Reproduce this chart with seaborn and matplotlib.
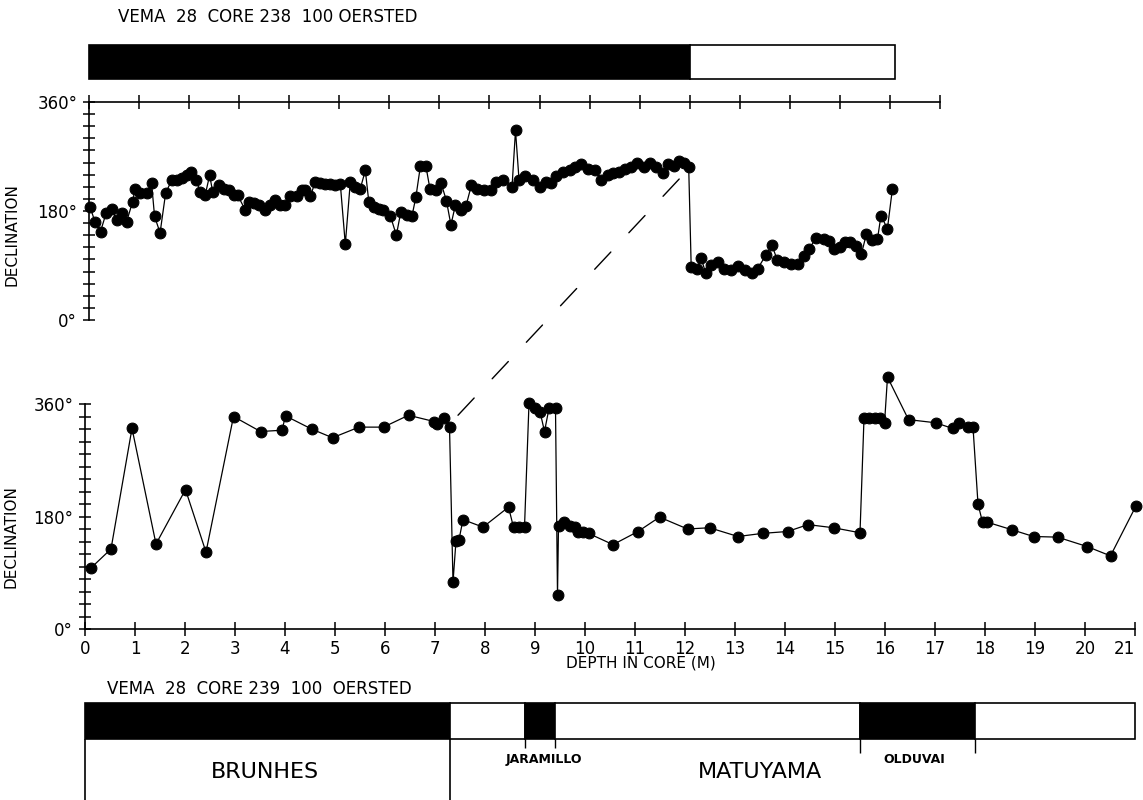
import numpy as np
import pandas as pd
import matplotlib.pyplot as plt
import seaborn as sns
from matplotlib.ticker import MultipleLocator
from matplotlib.patches import ConnectionPatch

# core 238 (top panel) - depth in m, declination in degrees
depth_238 = [0.02, 0.12, 0.23, 0.34, 0.45, 0.55, 0.65, 0.75, 0.87, 0.92,
             1.02, 1.15, 1.25, 1.31, 1.42, 1.53, 1.65, 1.75, 1.85, 1.95,
             2.03, 2.14, 2.22, 2.32, 2.41, 2.47, 2.59, 2.69, 2.79, 2.89,
             2.97, 3.12, 3.19, 3.29, 3.39, 3.52, 3.62, 3.72, 3.82, 3.92,
             4.02, 4.15, 4.25, 4.32, 4.42, 4.52, 4.62, 4.72, 4.82, 4.92,
             5.02, 5.12, 5.22, 5.32, 5.42, 5.52, 5.59, 5.69, 5.79, 5.88,
             6.02, 6.14, 6.23, 6.36, 6.45, 6.53, 6.62, 6.73, 6.81, 6.93,
             7.03, 7.14, 7.23, 7.32, 7.43, 7.53, 7.64, 7.75, 7.89, 8.03,
             8.14, 8.28, 8.45, 8.52, 8.59, 8.71, 8.86, 9.00, 9.12, 9.23,
             9.33, 9.46, 9.61, 9.71, 9.83, 9.96, 10.11, 10.23, 10.36, 10.46,
             10.59, 10.71, 10.82, 10.95, 11.09, 11.21, 11.33, 11.46, 11.57, 11.68,
             11.78, 11.88, 11.98, 12.03, 12.14, 12.23, 12.32, 12.43, 12.57, 12.68,
             12.82, 12.96, 13.11, 13.25, 13.36, 13.52, 13.64, 13.75, 13.89, 14.03,
             14.16, 14.28, 14.39, 14.52, 14.68, 14.78, 14.88, 15.00, 15.11, 15.21,
             15.32, 15.43, 15.53, 15.64, 15.75, 15.82, 15.95, 16.05]
decl_238 = [187, 162, 146, 176, 184, 165, 176, 162, 195, 217,
            209, 209, 226, 171, 144, 209, 231, 231, 234, 239,
            245, 231, 212, 206, 239, 212, 223, 217, 215, 206,
            206, 182, 195, 193, 190, 182, 190, 198, 190, 190,
            204, 204, 215, 215, 204, 228, 226, 225, 225, 223,
            225, 125, 228, 220, 217, 247, 195, 187, 184, 182,
            172, 140, 179, 173, 171, 203, 254, 254, 217, 215,
            227, 197, 157, 190, 182, 188, 223, 216, 215, 214,
            228, 232, 219, 313, 232, 237, 231, 220, 228, 227,
            237, 245, 248, 252, 258, 250, 248, 231, 239, 242,
            245, 249, 252, 260, 253, 260, 252, 243, 258, 254,
            262, 260, 252, 87, 85, 102, 77, 91, 96, 85,
            83, 89, 82, 77, 85, 107, 124, 99, 95, 93,
            93, 105, 118, 135, 133, 131, 118, 121, 128, 129,
            122, 109, 142, 132, 133, 172, 151, 217]

# core 239 (bottom panel)
depth_239 = [0.11, 0.52, 0.94, 1.42, 2.01, 2.42, 2.97, 3.51, 3.94, 4.01,
             4.53, 4.95, 5.48, 5.97, 6.47, 6.98, 7.04, 7.17, 7.29, 7.36,
             7.42, 7.48, 7.56, 7.96, 8.47, 8.57, 8.68, 8.79, 8.88, 9.00,
             9.10, 9.19, 9.28, 9.41, 9.45, 9.47, 9.58, 9.70, 9.80, 9.86,
             9.96, 10.07, 10.56, 11.06, 11.49, 12.05, 12.49, 13.06, 13.55, 14.05,
             14.46, 14.97, 15.50, 15.58, 15.68, 15.79, 15.89, 15.99, 16.05, 16.47,
             17.01, 17.35, 17.49, 17.66, 17.76, 17.86, 17.95, 18.04, 18.53, 18.97,
             19.45, 20.04, 20.51, 21.02]
decl_239 = [97, 128, 321, 136, 223, 123, 340, 316, 318, 341,
            320, 306, 323, 323, 342, 332, 328, 337, 324, 75,
            141, 143, 175, 163, 195, 163, 163, 163, 361, 353,
            348, 316, 353, 353, 54, 165, 172, 165, 164, 156,
            156, 153, 135, 156, 179, 160, 162, 148, 153, 156,
            167, 162, 154, 337, 337, 337, 337, 329, 403, 335,
            330, 321, 329, 323, 323, 200, 171, 171, 159, 148,
            147, 132, 117, 197]

# polarity bars (boundaries in m)
bar238_bounds = [0, 12.0, 16.1]
bar238_colors = ["black", "white"]
bar239_bounds = [0, 7.3, 8.8, 9.4, 15.5, 17.8, 21.0]
bar239_colors = ["black", "white", "black", "white", "black", "white"]

df238 = pd.DataFrame({"depth": depth_238, "decl": decl_238})
df239 = pd.DataFrame({"depth": depth_239, "decl": decl_239})

sns.set_style("ticks")
plt.rcParams["font.family"] = ["DejaVu Sans"]
plt.rcParams["text.color"] = "black"
plt.rcParams["axes.labelcolor"] = "black"
plt.rcParams["xtick.color"] = "black"
plt.rcParams["ytick.color"] = "black"
plt.rcParams["axes.edgecolor"] = "black"

W, H = 1143, 800
fig = plt.figure(figsize=(W / 100, H / 100), dpi=100)


def rect(x0, y0, x1, y1):
    return [x0 / W, 1 - y1 / H, (x1 - x0) / W, (y1 - y0) / H]


ax_top = fig.add_axes(rect(89, 102, 940, 320))
ax_bot = fig.add_axes(rect(85, 404, 1135, 629))
bar_top = fig.add_axes(rect(89, 45, 940, 79))
bar_bot = fig.add_axes(rect(85, 703, 1135, 800))

# data lines
for ax, df in [(ax_top, df238), (ax_bot, df239)]:
    sns.lineplot(data=df, x="depth", y="decl", ax=ax, sort=False, estimator=None,
                 color="black", lw=0.9, marker="o", markersize=7.8,
                 markeredgecolor="black", clip_on=False)
    ax.set_ylim(0, 360)
    ax.set_yticks([0, 180, 360])
    ax.set_yticklabels(["0°", "180°", "360°"])
    ax.yaxis.set_minor_locator(MultipleLocator(20))
    ax.tick_params(axis="y", which="both", direction="inout", length=9, width=1.1,
                   labelsize=12, pad=4)
    ax.set_ylabel("DECLINATION", fontsize=11)
    ax.spines["right"].set_visible(False)
    for s in ax.spines.values():
        s.set_linewidth(1.2)

# top panel: axis line on top, no labels
ax_top.set_xlim(0, 17)
ax_top.xaxis.tick_top()
ax_top.set_xticks(range(0, 18))
ax_top.tick_params(axis="x", direction="inout", length=10, width=1.1, labeltop=False)
ax_top.spines["bottom"].set_visible(False)
ax_top.set_xlabel("")
ax_top.yaxis.set_label_coords(-0.082, 0.39)

# bottom panel
ax_bot.set_xlim(0, 21)
ax_bot.set_xticks(range(0, 22))
ax_bot.tick_params(axis="x", direction="inout", length=10, width=1.1, labelsize=12, pad=3)
ax_bot.get_xticklabels()[-1].set_horizontalalignment("right")
ax_bot.spines["top"].set_visible(False)
ax_bot.set_xlabel("DEPTH IN CORE (M)", fontsize=11)
ax_bot.xaxis.set_label_coords(0.529, -0.12)
ax_bot.yaxis.set_label_coords(-0.063, 0.413)

# correlation dashed line
con = ConnectionPatch(xyA=(7.46, 342), coordsA=ax_bot.transData,
                      xyB=(11.86, 239), coordsB=ax_top.transData,
                      color="black", lw=1.0, linestyle=(0, (17, 19)))
fig.add_artist(con)

# polarity bars
for bax, bounds, cols, xmax in [(bar_top, bar238_bounds, bar238_colors, 17),
                                (bar_bot, bar239_bounds, bar239_colors, 21)]:
    lefts = bounds[:-1]
    widths = np.diff(bounds)
    bax.barh([0.5] * len(widths), widths, left=lefts, height=1, color=cols,
             edgecolor="black", linewidth=1.2, clip_on=False)
    bax.set_xlim(0, xmax)
    bax.axis("off")
bar_top.set_ylim(0, 1)
bar_bot.set_ylim(-1.694, 1)

# epoch / event boundaries under the lower bar
bar_bot.vlines([0, 7.3], -1.694, 0, color="black", lw=1.2, clip_on=False)
bar_bot.vlines([8.8, 9.4], -0.25, 0, color="black", lw=1.0)
bar_bot.vlines([15.5, 17.8], -0.39, 0, color="black", lw=1.0)
bar_bot.text(3.6, -0.92, "BRUNHES", fontsize=16, ha="center", va="center")
bar_bot.text(13.5, -0.92, "MATUYAMA", fontsize=16, ha="center", va="center")
bar_bot.text(9.18, -0.58, "JARAMILLO", fontsize=9, fontweight="bold", ha="center", va="center")
bar_bot.text(16.58, -0.58, "OLDUVAI", fontsize=9, fontweight="bold", ha="center", va="center")

fig.text(118 / W, 1 - 17 / H, "VEMA  28  CORE 238  100 OERSTED", fontsize=12,
         ha="left", va="center")
fig.text(107 / W, 1 - 689 / H, "VEMA  28  CORE 239  100  OERSTED", fontsize=12,
         ha="left", va="center")

fig.savefig("out.png", dpi=100)
